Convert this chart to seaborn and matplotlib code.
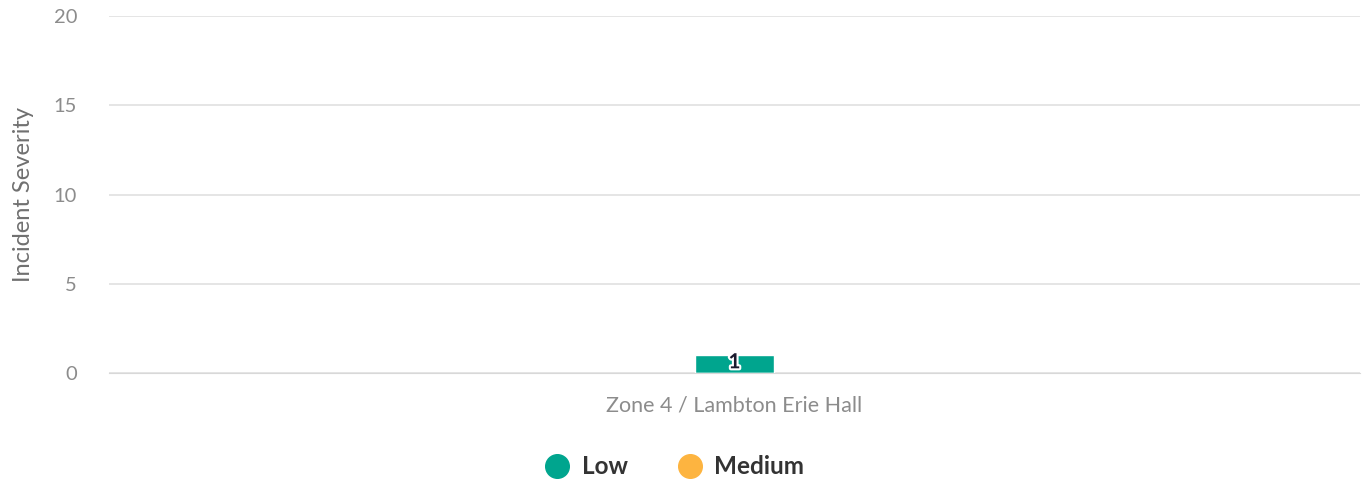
import pandas as pd
import seaborn as sns
import matplotlib.pyplot as plt
import matplotlib.patheffects as pe
from matplotlib.lines import Line2D

zones = ['Zone 4 / Lambton Erie Hall']
severities = ['Low', 'Medium']
low_counts = [1]
medium_counts = [0]
colors = ['#00a58e', '#fdb440']

df = pd.DataFrame({
    'Zone': zones * 2,
    'Severity': ['Low'] * len(zones) + ['Medium'] * len(zones),
    'Count': low_counts + medium_counts,
})

sns.set_style('white')
plt.rcParams['font.family'] = ['Lato', 'DejaVu Sans']

fig = plt.figure(figsize=(13.69, 4.84), dpi=100)
ax = fig.add_axes([109 / 1369, 1 - 373 / 484, 1251 / 1369, 357 / 484])

sns.barplot(data=df, x='Zone', y='Count', hue='Severity', palette=colors,
            dodge=False, width=0.0624, saturation=1, ax=ax, legend=False, zorder=3)

# data label on the Low bar only
for x, v in enumerate(low_counts):
    ax.text(x, v * 0.6, str(v), ha='center', va='center', fontsize=15, fontweight='bold',
            color='#1a1a2e', zorder=4,
            path_effects=[pe.withStroke(linewidth=3, foreground='white')])

ax.set_xlim(-0.5, 0.5)
ax.set_ylim(0, 20)
ax.set_yticks([0, 5, 10, 15, 20])
ax.yaxis.grid(True, color='#e0e0e0', linewidth=1.2, zorder=0)
ax.set_axisbelow(True)
for s in ['top', 'right', 'left']:
    ax.spines[s].set_visible(False)
ax.spines['bottom'].set_color('#d8d8d8')
ax.tick_params(axis='y', length=0, labelsize=14.5, colors='#8c8c8c', pad=23)
ax.tick_params(axis='x', length=0, labelsize=15.5, colors='#8c8c8c', pad=16)
ax.set_xlabel('')
ax.set_ylabel('Incident Severity', fontsize=17, color='#707070', labelpad=14)

handles = [Line2D([], [], marker='o', linestyle='', markersize=17,
                  markerfacecolor=c, markeredgecolor=c) for c in colors]
fig.legend(handles, severities, loc='center', bbox_to_anchor=(0.5 - 16 / 1369, 1 - 467 / 484),
           ncol=2, frameon=False, handletextpad=0.0, columnspacing=1.55,
           prop={'size': 17.5, 'weight': 'bold'}, labelcolor='#333333')

fig.savefig('out.png', dpi=100)
